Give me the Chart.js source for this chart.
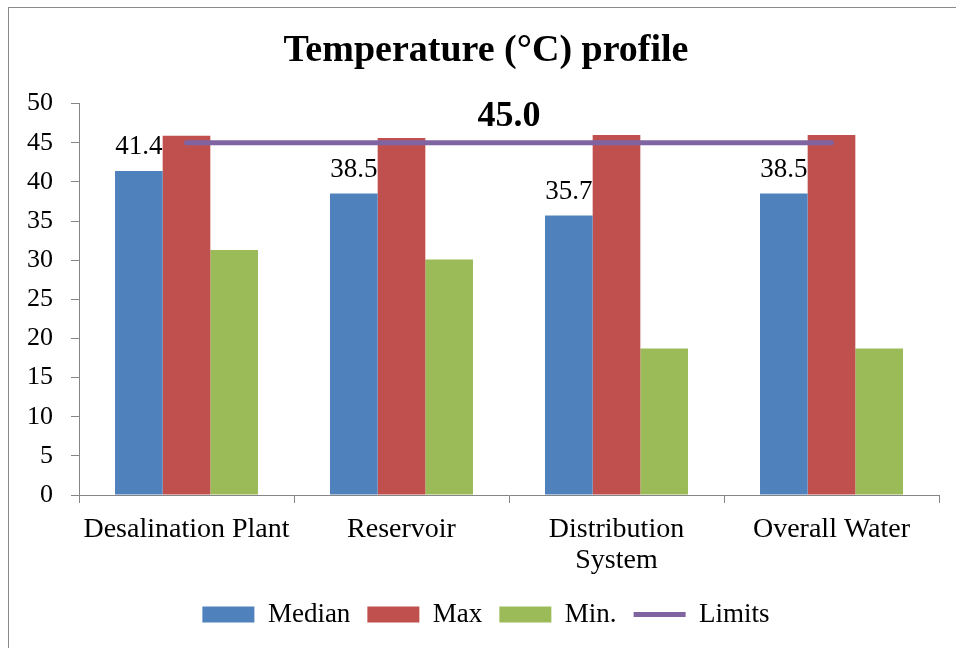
<!DOCTYPE html>
<html>
<head>
<meta charset="utf-8">
<script src="https://cdn.jsdelivr.net/npm/chart.js@4/dist/chart.umd.min.js"></script>
<style>
  html, body { margin: 0; padding: 0; background: #fff; overflow: hidden; width: 956px; height: 648px; }
  #frame { position: absolute; left: 8px; top: 7px; width: 1000px; height: 700px;
           border-left: 1px solid #8a8a8a; border-top: 1px solid #8a8a8a; }
  #chart { display: block; }
</style>
</head>
<body>
<div id="frame"><canvas id="chart" width="956" height="648"></canvas></div>
<script>
// Sampling points and temperature statistics (°C)
const categories = ['Desalination Plant', 'Reservoir', ['Distribution', 'System'], 'Overall Water'];
const medianVals = [41.4, 38.5, 35.7, 38.5];
const maxVals    = [45.9, 45.6, 46.0, 46.0];
const minVals    = [31.3, 30.1, 18.7, 18.7];
const limitVals  = [45.0, 45.0, 45.0, 45.0];
const yTicks     = [0, 5, 10, 15, 20, 25, 30, 35, 40, 45, 50];

const SERIF = '"Liberation Serif", "Times New Roman", serif';
const AXIS_GREY = '#868686';
Chart.defaults.font.family = SERIF;
Chart.defaults.color = '#000';

// Value labels: medians above their bars, the limit once above the line's middle
const valueLabels = {
  id: 'valueLabels',
  afterDatasetsDraw(chart) {
    const ctx = chart.ctx;
    ctx.save();
    ctx.fillStyle = '#000';
    ctx.textAlign = 'center';
    ctx.textBaseline = 'alphabetic';

    const med = chart.getDatasetMeta(0);
    ctx.font = '27px ' + SERIF;
    med.data.forEach((bar, i) => {
      ctx.fillText(medianVals[i].toFixed(1), bar.x, bar.y - 17);
    });

    const lim = chart.getDatasetMeta(3);
    const first = lim.data[0], last = lim.data[lim.data.length - 1];
    ctx.font = 'bold 36px ' + SERIF;
    ctx.fillText(limitVals[0].toFixed(1), (first.x + last.x) / 2, first.y - 17);
    ctx.restore();
  }
};

new Chart(document.getElementById('chart'), {
  type: 'bar',
  data: {
    labels: categories,
    datasets: [
      { label: 'Median', data: medianVals, backgroundColor: '#4F81BD', order: 1 },
      { label: 'Max',    data: maxVals,    backgroundColor: '#C0504D', order: 1 },
      { label: 'Min.',   data: minVals,    backgroundColor: '#9BBB59', order: 1 },
      { label: 'Limits', data: limitVals, type: 'line', order: -1,
        borderColor: '#8064A2', backgroundColor: '#8064A2', borderWidth: 5,
        borderCapStyle: 'round', pointRadius: 0, fill: false }
    ]
  },
  options: {
    responsive: false,
    animation: false,
    devicePixelRatio: 1,
    layout: { padding: { left: 12, right: 14, top: 0, bottom: 18 } },
    datasets: {
      bar: { categoryPercentage: 0.665, barPercentage: 1.0, borderWidth: 0 }
    },
    scales: {
      x: {
        grid: { display: true, drawOnChartArea: false, drawTicks: true, tickLength: 8,
                color: AXIS_GREY, offset: true },
        border: { display: true, color: AXIS_GREY, width: 1 },
        ticks: { font: { size: 28, lineHeight: 1.1 }, padding: 11, maxRotation: 0, autoSkip: false },
        afterFit(scale) { scale.height = 89; }
      },
      y: {
        min: 0, max: 50,
        afterBuildTicks(scale) { scale.ticks = yTicks.map(v => ({ value: v })); },
        grid: { display: true, drawOnChartArea: false, drawTicks: true, tickLength: 8,
                color: AXIS_GREY },
        border: { display: true, color: AXIS_GREY, width: 1 },
        ticks: { font: { size: 26 }, padding: 18 },
        afterFit(scale) { scale.width = 58; }
      },
      // empty right-hand margin beside the plot
      yRight: {
        position: 'right', min: 0, max: 1,
        grid: { display: false },
        border: { display: false },
        ticks: { display: false },
        afterFit(scale) { scale.width = 12; }
      }
    },
    plugins: {
      title: {
        display: true,
        text: 'Temperature (°C) profile',
        color: '#000',
        font: { size: 38, weight: 'bold' },
        padding: { top: 20, bottom: 30 }
      },
      legend: {
        position: 'bottom',
        labels: {
          usePointStyle: true,
          pointStyleWidth: 52,
          boxHeight: 16,
          padding: 17,
          font: { size: 27 },
          sort: (a, b) => a.datasetIndex - b.datasetIndex,
          generateLabels(chart) {
            const items = Chart.defaults.plugins.legend.labels.generateLabels(chart);
            return items.map(it => Object.assign(it, {
              pointStyle: it.datasetIndex === 3 ? 'line' : 'rect'
            }));
          }
        }
      },
      tooltip: { enabled: false }
    }
  },
  plugins: [valueLabels]
});
</script>
</body>
</html>
